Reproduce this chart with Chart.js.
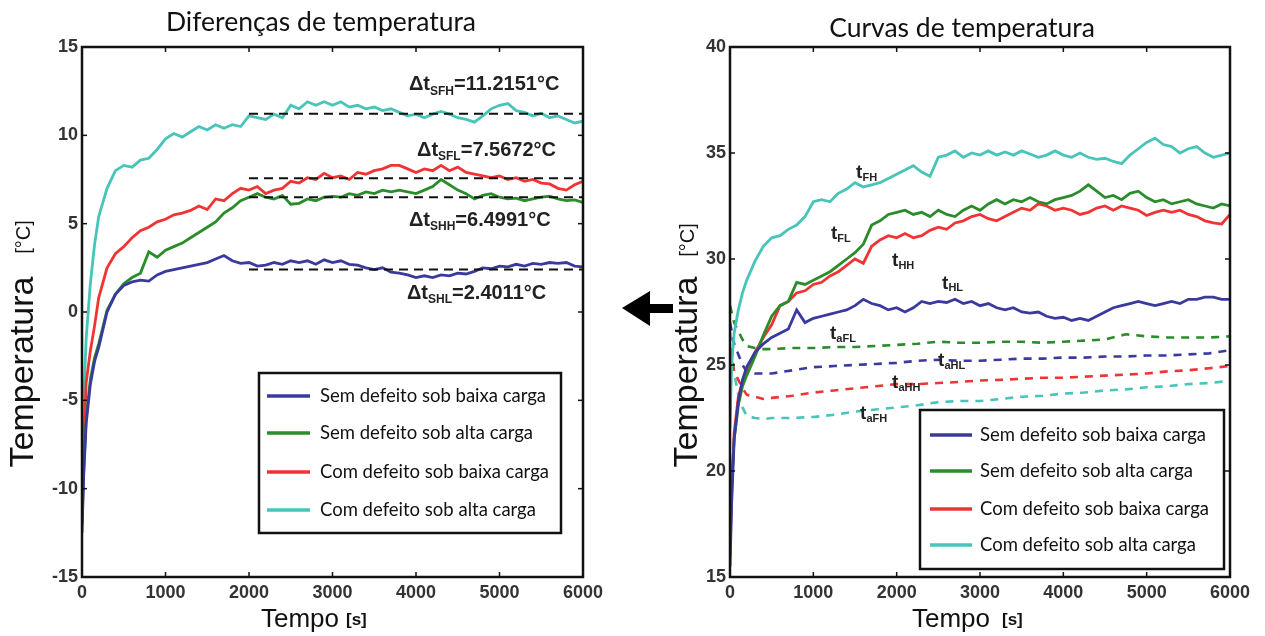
<!DOCTYPE html>
<html>
<head>
<meta charset="utf-8">
<script src="https://cdn.jsdelivr.net/npm/chart.js@4"></script>
<style>
  body { margin: 0; background: #fff; width: 1265px; height: 636px; overflow: hidden; position: relative; }
  canvas { position: absolute; top: 0; }
  #left { left: 0; }
  #right { left: 640px; }
  #arrow { position: absolute; left: 615px; top: 285px; }
</style>
</head>
<body>
<canvas id="left" width="615" height="636"></canvas>
<canvas id="right" width="625" height="636"></canvas>
<svg id="arrow" width="65" height="50"><polygon points="7,23 35,6 35,19 58,19 58,28 35,28 35,41" fill="#000"/></svg>
<script>
// time axis (s)
const times = [0, 20, 50, 100, 150, 200, 300, 400, 500, 600, 700, 800, 900, 1000,
  1100, 1200, 1300, 1400, 1500, 1600, 1700, 1800, 1900, 2000,
  2100, 2200, 2300, 2400, 2500, 2600, 2700, 2800, 2900, 3000,
  3100, 3200, 3300, 3400, 3500, 3600, 3700, 3800, 3900, 4000,
  4100, 4200, 4300, 4400, 4500, 4600, 4700, 4800, 4900, 5000,
  5100, 5200, 5300, 5400, 5500, 5600, 5700, 5800, 5900, 6000];

// left: temperature differences
const diffBlue = [-12.5, -9.3, -6.3, -4.1, -2.8, -2.0,
  0, 1.0, 1.5, 1.7, 1.8, 1.75, 2.1, 2.3,
  2.4, 2.5, 2.6, 2.7, 2.8, 3.0, 3.2, 2.9, 2.75, 2.8,
  2.6, 2.65, 2.8, 2.7, 2.9, 2.8, 2.9, 2.7, 2.95, 2.8,
  2.9, 2.7, 2.65, 2.5, 2.4, 2.5, 2.25, 2.2, 2.1, 1.95,
  2.05, 1.95, 2.1, 2.05, 2.2, 2.15, 2.3, 2.5, 2.45, 2.6,
  2.55, 2.7, 2.6, 2.75, 2.7, 2.8, 2.75, 2.8, 2.6, 2.55];
const diffGreen = [-12, -9, -6, -3.8, -2.6, -1.8,
  0.1, 1.0, 1.6, 1.95, 2.2, 3.4, 3.1, 3.5,
  3.7, 3.9, 4.2, 4.5, 4.8, 5.1, 5.6, 5.9, 6.3, 6.5,
  6.7, 6.5, 6.4, 6.6, 6.1, 6.15, 6.4, 6.3, 6.5, 6.55,
  6.5, 6.7, 6.6, 6.8, 6.7, 6.9, 6.8, 6.9, 6.8, 6.7,
  6.9, 7.1, 7.5, 7.2, 6.9, 6.7, 6.4, 6.6, 6.7, 6.5,
  6.4, 6.45, 6.3, 6.4, 6.5, 6.55, 6.4, 6.3, 6.35, 6.2];
const diffRed = [-11.5, -7.5, -4, -2.2, -0.8, 0.8,
  2.5, 3.3, 3.7, 4.2, 4.6, 4.8, 5.1, 5.25,
  5.5, 5.6, 5.75, 6.0, 5.8, 6.4, 6.3, 6.7, 7.0, 6.9,
  7.1, 6.7, 6.9, 7.0, 7.4, 7.3, 7.6, 7.5, 7.85, 7.6,
  7.7, 7.5, 7.9, 7.8, 8.0, 8.1, 8.3, 8.3, 8.1, 7.9,
  8.1, 8.0, 8.3, 8.0, 8.2, 7.9, 7.8, 7.7, 7.6, 7.7,
  7.5, 7.6, 7.4, 7.5, 7.3, 7.25, 7.0, 6.9, 7.2, 7.4];
const diffCyan = [-11, -5, -1.5, 1.6, 3.8, 5.4,
  7.0, 8.0, 8.3, 8.2, 8.6, 8.7, 9.2, 9.8,
  10.1, 9.9, 10.2, 10.5, 10.3, 10.6, 10.4, 10.6, 10.5, 11.1,
  11.0, 10.9, 11.2, 11.0, 11.7, 11.5, 11.9, 11.7, 11.9, 11.7,
  11.9, 11.6, 11.7, 11.5, 11.6, 11.4, 11.5, 11.3, 11.1, 11.2,
  11.0, 11.2, 11.35, 11.2, 11.0, 10.9, 10.75, 11.1, 11.5, 11.7,
  11.8, 11.4, 11.3, 11.1, 11.25, 11.0, 11.1, 10.9, 10.7, 10.8];

// mean differences (dashed black lines)
const refStart = 2000, refEnd = 6000;
const refValues = [11.2151, 7.5672, 6.4991, 2.4011];
const refSubs = ['SFH', 'SFL', 'SHH', 'SHL'];

// right: temperature curves
const tempBlue = [15.5, 18.5, 21.5, 23.3, 24.3, 24.9,
  25.6, 26.0, 26.3, 26.5, 26.7, 27.6, 27.0, 27.2,
  27.3, 27.4, 27.5, 27.6, 27.8, 28.1, 27.9, 27.8, 27.6, 27.7,
  27.5, 27.7, 28.0, 27.9, 28.0, 27.95, 28.1, 27.9, 28.0, 27.8,
  27.9, 27.7, 27.6, 27.7, 27.5, 27.45, 27.5, 27.3, 27.2, 27.25,
  27.1, 27.2, 27.1, 27.3, 27.5, 27.7, 27.8, 27.9, 28.0, 27.9,
  27.8, 27.9, 28.0, 27.9, 28.1, 28.1, 28.2, 28.2, 28.1, 28.1];
const tempGreen = [17, 19.5, 21.5, 23.1, 24.0, 24.5,
  25.4, 26.4, 27.3, 27.8, 28.0, 28.9, 28.8, 29.0,
  29.2, 29.4, 29.7, 30.0, 30.3, 30.7, 31.6, 31.8, 32.1, 32.2,
  32.3, 32.1, 32.2, 32.0, 32.3, 32.1, 32.0, 32.3, 32.5, 32.3,
  32.6, 32.8, 32.6, 32.8, 32.7, 32.9, 32.7, 32.6, 32.8, 32.9,
  33.0, 33.2, 33.5, 33.2, 32.9, 33.0, 32.8, 33.1, 33.2, 32.9,
  32.7, 32.8, 32.6, 32.7, 32.8, 32.6, 32.5, 32.4, 32.6, 32.5];
const tempRed = [16, 19, 21.8, 23.5, 24.2, 24.7,
  25.6, 26.3, 26.9, 27.8, 28.0, 28.4, 28.5, 28.8,
  28.9, 29.2, 29.4, 29.7, 30.0, 29.8, 30.6, 30.9, 31.1, 31.0,
  31.2, 31.0, 31.1, 31.35, 31.5, 31.4, 31.7, 31.8, 32.0, 32.1,
  31.9, 31.8, 32.0, 32.2, 32.4, 32.3, 32.6, 32.5, 32.3, 32.4,
  32.3, 32.1, 32.2, 32.4, 32.5, 32.3, 32.5, 32.4, 32.3, 32.05,
  32.2, 32.3, 32.2, 32.3, 32.1, 32.0, 31.8, 31.7, 31.65, 32.1];
const tempCyan = [22, 25, 26.5, 27.6, 28.4, 29.0,
  29.9, 30.6, 31.0, 31.1, 31.4, 31.6, 32.0, 32.7,
  32.8, 32.7, 33.1, 33.3, 33.6, 33.4, 33.5, 33.6, 33.8, 34.0,
  34.2, 34.4, 34.1, 33.9, 34.8, 34.9, 35.1, 34.8, 35.0, 34.9,
  35.1, 34.9, 35.05, 34.9, 35.1, 34.95, 34.8, 34.9, 35.1, 34.9,
  34.8, 35.0, 34.8, 34.7, 34.75, 34.6, 34.5, 34.9, 35.2, 35.5,
  35.7, 35.4, 35.3, 35.0, 35.2, 35.3, 35.0, 34.8, 34.9, 35.0];

// ambient curves (dashed)
const ambTimes = [0, 50, 100, 150, 200, 300, 400, 500, 750, 1000, 1250, 1500, 1750, 2000,
  2250, 2500, 2750, 3000, 3250, 3500, 3750, 4000, 4250, 4500, 4750, 5000, 5250, 5500, 5750, 6000];
const ambGreen = [27.8, 27.0, 26.6, 26.2, 25.9, 25.8, 25.75, 25.75, 25.8, 25.8, 25.85, 25.85, 25.9, 25.95,
  26.0, 26.1, 26.05, 26.05, 26.1, 26.1, 26.05, 26.1, 26.15, 26.2, 26.45, 26.35, 26.3, 26.3, 26.3, 26.35];
const ambBlue = [27.0, 26.0, 25.5, 25.0, 24.7, 24.6, 24.6, 24.6, 24.75, 24.9, 24.95, 25.0, 25.05, 25.1,
  25.2, 25.25, 25.2, 25.2, 25.25, 25.3, 25.3, 25.35, 25.35, 25.4, 25.4, 25.45, 25.45, 25.5, 25.55, 25.7];
const ambRed = [25.8, 24.7, 24.3, 23.9, 23.6, 23.5, 23.4, 23.45, 23.55, 23.7, 23.8, 23.9, 24.0, 24.1,
  24.1, 24.15, 24.2, 24.27, 24.3, 24.35, 24.4, 24.4, 24.45, 24.5, 24.55, 24.6, 24.7, 24.75, 24.85, 24.95];
const ambCyan = [26.5, 24.6, 23.6, 23.0, 22.6, 22.5, 22.45, 22.5, 22.5, 22.55, 22.65, 22.8, 22.9, 23.0,
  23.1, 23.25, 23.3, 23.3, 23.4, 23.5, 23.55, 23.65, 23.7, 23.8, 23.85, 23.95, 24.0, 24.1, 24.15, 24.25];

const seriesNames = ['Sem defeito sob baixa carga', 'Sem defeito sob alta carga',
  'Com defeito sob baixa carga', 'Com defeito sob alta carga'];
const colors = ['#3a3a9e', '#2a8c2a', '#f03434', '#48c4b8'];
const curveSubs = ['FH', 'FL', 'HH', 'HL', 'aFL', 'aHL', 'aHH', 'aFH'];

const pts = (xs, ys) => xs.map((x, i) => ({ x: x, y: ys[i] }));
const tickFont = { family: "'Liberation Sans', Arial", weight: 'bold', size: 18 };

const decor = {
  id: 'decor',
  afterDatasetsDraw(chart, args, o) {
    const ctx = chart.ctx, a = chart.chartArea;
    const xs = chart.scales.x, ys = chart.scales.y;
    ctx.save();
    ctx.strokeStyle = '#111';
    ctx.lineWidth = 1.5;
    const seg = (x1, y1, x2, y2) => { ctx.beginPath(); ctx.moveTo(x1, y1); ctx.lineTo(x2, y2); ctx.stroke(); };
    xs.ticks.forEach(t => {
      const px = xs.getPixelForValue(t.value);
      seg(px, a.bottom, px, a.bottom - 5); seg(px, a.top, px, a.top + 5);
    });
    ys.ticks.forEach(t => {
      const py = ys.getPixelForValue(t.value);
      seg(a.left, py, a.left + 5, py); seg(a.right, py, a.right - 5, py);
    });
    ctx.lineWidth = 2.5;
    ctx.strokeRect(a.left, a.top, a.right - a.left, a.bottom - a.top);

    // labels on curves
    ctx.fillStyle = '#222';
    ctx.textBaseline = 'middle';
    ctx.textAlign = 'left';
    o.notes.forEach(n => {
      let x = xs.getPixelForValue(n.t);
      const y = ys.getPixelForValue(n.v);
      ctx.font = o.noteBig;
      ctx.fillText(n.main, x, y);
      x += ctx.measureText(n.main).width;
      ctx.font = o.noteSmall;
      ctx.fillText(n.sub, x, y + o.drop);
      x += ctx.measureText(n.sub).width;
      if (n.rest) { ctx.font = o.noteBig; ctx.fillText(n.rest, x, y); }
    });

    // legend
    const L = o.legend;
    ctx.fillStyle = '#fff';
    ctx.fillRect(L.box[0], L.box[1], L.box[2], L.box[3]);
    ctx.lineWidth = 2.5;
    ctx.strokeStyle = '#111';
    ctx.strokeRect(L.box[0], L.box[1], L.box[2], L.box[3]);
    ctx.font = "18.5px Lato";
    seriesNames.forEach((name, i) => {
      ctx.strokeStyle = colors[i];
      ctx.lineWidth = 3.5;
      seg(L.sample[0], L.rows[i], L.sample[1], L.rows[i]);
      ctx.fillStyle = '#111';
      ctx.fillText(name, L.textX, L.rows[i]);
    });

    // titles
    ctx.fillStyle = '#111';
    ctx.textAlign = 'center';
    ctx.font = "26.5px Lato";
    ctx.fillText(o.title.text, o.title.x, o.title.y);
    ctx.textAlign = 'left';
    ctx.font = "26px 'Liberation Sans'";
    ctx.fillText('Tempo', o.xTitle.x, o.xTitle.y);
    ctx.font = "bold 17px 'Liberation Sans'";
    ctx.fillText('[s]', o.xTitle.unitX, o.xTitle.y);
    ctx.save();
    ctx.translate(o.yTitle.x, 0);
    ctx.rotate(-Math.PI / 2);
    ctx.textAlign = 'center';
    ctx.font = "34px 'Liberation Sans'";
    ctx.fillText('Temperatura', -o.yTitle.mainY, 0);
    ctx.font = "20px 'Liberation Sans'";
    ctx.fillText('[°C]', -o.yTitle.unitY, 0);
    ctx.restore();
    ctx.restore();
  }
};

function makeChart(id, cfg) {
  return new Chart(document.getElementById(id), {
    type: 'line',
    data: { datasets: cfg.datasets },
    options: {
      responsive: false,
      animation: false,
      devicePixelRatio: 1,
      layout: { padding: cfg.padding },
      elements: { point: { radius: 0 }, line: { tension: 0, borderWidth: 2.8 } },
      plugins: {
        legend: { display: false },
        tooltip: { enabled: false },
        decor: cfg.decor
      },
      scales: {
        x: {
          type: 'linear', min: 0, max: 6000,
          ticks: { stepSize: 1000, font: tickFont, color: '#333', padding: 5, maxRotation: 0, autoSkip: false,
            format: { useGrouping: false } },
          grid: { display: false, drawTicks: false },
          border: { display: false },
          afterFit: s => { s.height = cfg.xHeight; }
        },
        y: {
          type: 'linear', min: cfg.yMin, max: cfg.yMax,
          ticks: { stepSize: 5, font: tickFont, color: '#333', padding: 4, autoSkip: false },
          grid: { display: false, drawTicks: false },
          border: { display: false },
          afterFit: s => { s.width = cfg.yWidth; }
        }
      }
    },
    plugins: [decor]
  });
}

// left chart
const leftSets = refValues.map(v => ({
  data: [{ x: refStart, y: v }, { x: refEnd, y: v }],
  borderColor: '#111', borderWidth: 2, borderDash: [9, 6], order: 0
}));
[diffBlue, diffGreen, diffRed, diffCyan].forEach((s, i) => {
  leftSets.push({ label: seriesNames[i], data: pts(times, s), borderColor: colors[i], order: 1 });
});
const leftNoteAt = [[3916, 12.85], [4012, 9.17], [3916, 5.2], [3892, 1.07]];

makeChart('left', {
  datasets: leftSets,
  padding: { left: 0, top: 47, right: 32, bottom: 0 },
  xHeight: 59, yWidth: 82, yMin: -15, yMax: 15,
  decor: {
    notes: refValues.map((v, i) => ({
      t: leftNoteAt[i][0], v: leftNoteAt[i][1], main: '\u0394t', sub: refSubs[i], rest: '=' + v + '°C'
    })),
    noteBig: "bold 20px 'Liberation Sans'", noteSmall: "bold 12px 'Liberation Sans'", drop: 7,
    legend: { box: [259, 373, 302, 160], rows: [396, 433, 472, 510], sample: [267, 310], textX: 320 },
    title: { text: 'Diferenças de temperatura', x: 321, y: 22 },
    xTitle: { x: 261, unitX: 346, y: 620 },
    yTitle: { x: 24, mainY: 372, unitY: 237 }
  }
});

// right chart
const rightSets = [];
[tempBlue, tempGreen, tempRed, tempCyan].forEach((s, i) => {
  rightSets.push({ label: seriesNames[i], data: pts(times, s), borderColor: colors[i] });
});
[ambBlue, ambGreen, ambRed, ambCyan].forEach((s, i) => {
  rightSets.push({ data: pts(ambTimes, s), borderColor: colors[i], borderWidth: 2.6, borderDash: [8, 7] });
});
const rightNoteAt = [[1513, 34.05], [1212, 31.2], [1945, 29.93], [2545, 28.85],
  [1200, 26.48], [2497, 25.2], [1945, 24.17], [1561, 22.7]];

makeChart('right', {
  datasets: rightSets,
  padding: { left: 0, top: 47, right: 35, bottom: 0 },
  xHeight: 59, yWidth: 90, yMin: 15, yMax: 40,
  decor: {
    notes: curveSubs.map((s, i) => ({ t: rightNoteAt[i][0], v: rightNoteAt[i][1], main: 't', sub: s })),
    noteBig: "bold 19px 'Liberation Sans'", noteSmall: "bold 11px 'Liberation Sans'", drop: 5,
    legend: { box: [280, 410, 304, 159], rows: [435, 471, 509, 545], sample: [290, 332], textX: 340 },
    title: { text: 'Curvas de temperatura', x: 322, y: 28 },
    xTitle: { x: 272, unitX: 362, y: 620 },
    yTitle: { x: 48, mainY: 372, unitY: 240 }
  }
});
</script>
</body>
</html>
